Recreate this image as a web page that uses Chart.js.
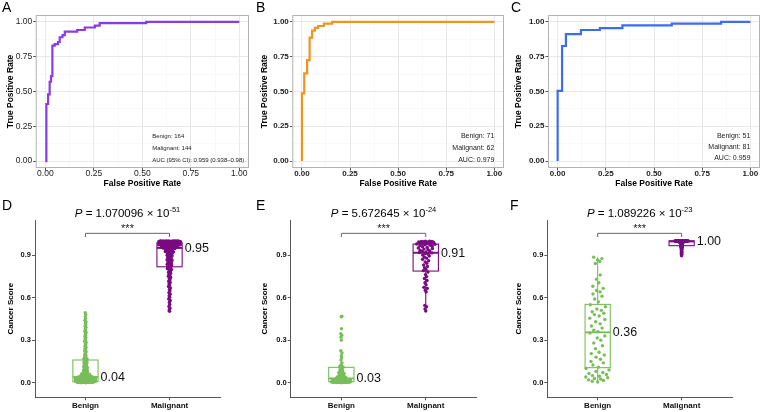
<!DOCTYPE html>
<html>
<head>
<meta charset="utf-8">
<script src="https://cdn.jsdelivr.net/npm/chart.js@4.4.1/dist/chart.umd.min.js"></script>
<style>
	body { margin: 0; background: #fff; width: 762px; height: 412px; position: relative; overflow: hidden; font-family: 'Liberation Sans', Arial, sans-serif; }
	.panel { position: absolute; }
	.tag { position: absolute; font-size: 14px; line-height: 1; color: #000; }
</style>
</head>
<body>
<div class="panel" style="left:0;top:0;width:254px;height:200px"><canvas id="rocA"></canvas></div>
<div class="panel" style="left:254px;top:0;width:254px;height:200px"><canvas id="rocB"></canvas></div>
<div class="panel" style="left:508px;top:0;width:254px;height:200px"><canvas id="rocC"></canvas></div>
<div class="panel" style="left:0;top:200px;width:254px;height:212px"><canvas id="scoreD"></canvas></div>
<div class="panel" style="left:254px;top:200px;width:254px;height:212px"><canvas id="scoreE"></canvas></div>
<div class="panel" style="left:508px;top:200px;width:254px;height:212px"><canvas id="scoreF"></canvas></div>
<div class="tag" style="left:2px;top:0px">A</div>
<div class="tag" style="left:256px;top:0px">B</div>
<div class="tag" style="left:511px;top:0px">C</div>
<div class="tag" style="left:2px;top:198px">D</div>
<div class="tag" style="left:256px;top:198px">E</div>
<div class="tag" style="left:510px;top:198px">F</div>
<script>
'use strict';

const FONT = "'Liberation Sans', Arial, sans-serif";

// ROC 곡선 데이터
const rocAFpr = [0, 0.005, 0.014, 0.022, 0.029, 0.036, 0.048, 0.065, 0.074, 0.088, 0.100, 0.164, 0.203, 0.255, 0.280, 0.520, 1.0];
const rocATpr = [0, 0.410, 0.480, 0.570, 0.610, 0.830, 0.840, 0.856, 0.890, 0.906, 0.930, 0.942, 0.960, 0.974, 0.992, 1.000, 1.0];
const rocBFpr = [0, 0, 0.012, 0.027, 0.040, 0.053, 0.067, 0.084, 0.114, 0.157, 1.0];
const rocBTpr = [0, 0.486, 0.630, 0.726, 0.887, 0.938, 0.957, 0.971, 0.988, 1.000, 1.0];
const rocCFpr = [0, 0, 0.023, 0.043, 0.121, 0.219, 0.336, 0.592, 0.848, 1.0];
const rocCTpr = [0, 0.505, 0.827, 0.913, 0.942, 0.955, 0.976, 0.988, 1.000, 1.0];
const rocTicks = [0, 0.125, 0.25, 0.375, 0.5, 0.625, 0.75, 0.875, 1];

const rocANotes = ['Benign: 164', 'Malignant: 144', 'AUC (95% CI): 0.959 (0.938\u20130.98)'];
const rocBNotes = ['Benign: 71', 'Malignant: 62', 'AUC: 0.979'];
const rocCNotes = ['Benign: 51', 'Malignant: 81', 'AUC: 0.959'];

// Cancer Score 데이터
const groupLabels = ['Benign', 'Malignant'];
const scoreTicks = [0, 0.3, 0.6, 0.9];

const scoreDBenign = [
	0.000, 0.000, 0.001, 0.001, 0.001, 0.002, 0.002, 0.002, 0.002, 0.003, 0.003, 0.003, 0.003, 0.004, 0.004,
	0.004, 0.005, 0.005, 0.005, 0.006, 0.006, 0.006, 0.007, 0.007, 0.007, 0.008, 0.008, 0.008, 0.009, 0.009,
	0.010, 0.010, 0.011, 0.011, 0.012, 0.012, 0.013, 0.013, 0.014, 0.014, 0.015, 0.015, 0.016, 0.016, 0.017,
	0.018, 0.018, 0.019, 0.019, 0.020, 0.021, 0.021, 0.022, 0.022, 0.023, 0.024, 0.024, 0.025, 0.026, 0.026,
	0.027, 0.028, 0.028, 0.029, 0.030, 0.030, 0.031, 0.032, 0.032, 0.033, 0.034, 0.034, 0.035, 0.036, 0.036,
	0.037, 0.038, 0.038, 0.039, 0.039, 0.040, 0.040, 0.041, 0.041, 0.042, 0.043, 0.044,
	0.045, 0.047, 0.049, 0.051, 0.053, 0.055, 0.057, 0.060, 0.062, 0.065, 0.068, 0.071, 0.074, 0.077, 0.080,
	0.083, 0.086, 0.089, 0.092, 0.095, 0.098, 0.101, 0.104, 0.108, 0.112, 0.116, 0.120, 0.124, 0.128, 0.132,
	0.136, 0.140, 0.144, 0.148, 0.152, 0.155, 0.158, 0.161, 0.164, 0.167, 0.170,
	0.175, 0.182, 0.189, 0.196, 0.203, 0.210, 0.218, 0.226, 0.234, 0.242, 0.250, 0.258, 0.266, 0.275, 0.284,
	0.292, 0.300, 0.309, 0.318, 0.327, 0.336, 0.345, 0.354, 0.363, 0.372, 0.381, 0.390, 0.399, 0.409, 0.419,
	0.429, 0.440, 0.452, 0.466, 0.481, 0.494
];
const scoreDMalignant = [
	0.503, 0.512, 0.525, 0.538, 0.552, 0.566, 0.579, 0.590, 0.602, 0.613, 0.624, 0.635, 0.646, 0.657, 0.668,
	0.678, 0.688, 0.698, 0.707, 0.716, 0.725, 0.734, 0.742, 0.750, 0.758, 0.765, 0.772, 0.779, 0.786, 0.792,
	0.798, 0.804, 0.809, 0.813, 0.817, 0.820,
	0.823, 0.827, 0.831, 0.835, 0.839, 0.843, 0.847, 0.851, 0.855, 0.859, 0.863, 0.867, 0.871, 0.875, 0.879,
	0.883, 0.887, 0.891, 0.895, 0.899, 0.903, 0.907, 0.910, 0.913, 0.916, 0.919, 0.922, 0.925, 0.928, 0.931,
	0.934, 0.937, 0.940, 0.943, 0.946, 0.949,
	0.950, 0.951, 0.952, 0.953, 0.954, 0.955, 0.956, 0.957, 0.958, 0.959, 0.960, 0.961, 0.962, 0.963, 0.964,
	0.965, 0.966, 0.967, 0.968, 0.969, 0.970, 0.971, 0.972, 0.973, 0.974, 0.975, 0.976, 0.977, 0.978, 0.979,
	0.980, 0.981, 0.982, 0.984, 0.985, 0.986,
	0.987, 0.988, 0.988, 0.989, 0.989, 0.990, 0.990, 0.991, 0.991, 0.992, 0.992, 0.993, 0.993, 0.994, 0.994,
	0.994, 0.995, 0.995, 0.995, 0.996, 0.996, 0.996, 0.997, 0.997, 0.997, 0.998, 0.998, 0.998, 0.998, 0.999,
	0.999, 0.999, 0.999, 1.000, 1.000, 1.000
];
const scoreEBenign = [
	0.000, 0.001, 0.001, 0.001, 0.002, 0.002, 0.002, 0.003, 0.003, 0.003, 0.004, 0.004, 0.005, 0.005, 0.006,
	0.006, 0.007, 0.007, 0.008, 0.009, 0.010, 0.011, 0.012, 0.013, 0.014, 0.015, 0.016, 0.017, 0.018, 0.019,
	0.021, 0.022, 0.024, 0.026, 0.028, 0.030, 0.032, 0.035, 0.038, 0.041, 0.044, 0.047, 0.050, 0.054, 0.058,
	0.062, 0.066, 0.070, 0.075, 0.080, 0.085, 0.091, 0.098, 0.106, 0.110, 0.115, 0.118, 0.125, 0.140, 0.160,
	0.175, 0.190, 0.210, 0.225, 0.300, 0.320, 0.335, 0.345, 0.380, 0.465, 0.468
];
const scoreEMalignant = [
	0.505, 0.520, 0.535, 0.545, 0.640, 0.652, 0.665, 0.672, 0.690, 0.705, 0.720, 0.735, 0.748, 0.762, 0.780,
	0.790, 0.800, 0.810, 0.820, 0.830, 0.842, 0.852, 0.860, 0.870, 0.878, 0.886, 0.893, 0.900, 0.905, 0.910,
	0.915, 0.918, 0.922, 0.926, 0.930, 0.934, 0.938, 0.942, 0.946, 0.950, 0.954, 0.958, 0.962, 0.966, 0.970,
	0.973, 0.976, 0.978, 0.980, 0.982, 0.984, 0.986, 0.988, 0.990, 0.991, 0.992, 0.993, 0.994, 0.995, 0.996,
	0.997, 0.998
];
const scoreFBenign = [
	0.005, 0.010, 0.015, 0.020, 0.025, 0.030, 0.035, 0.040, 0.045, 0.050, 0.058, 0.065, 0.072, 0.080, 0.090,
	0.100, 0.110, 0.125, 0.140, 0.150, 0.165, 0.180, 0.195, 0.205, 0.215, 0.240, 0.260, 0.280, 0.300, 0.315,
	0.330, 0.350, 0.360, 0.370, 0.385, 0.400, 0.415, 0.430, 0.445, 0.455, 0.470, 0.480, 0.490, 0.500, 0.510,
	0.520, 0.535, 0.550, 0.570, 0.590, 0.610, 0.625, 0.640, 0.650, 0.665, 0.680, 0.705, 0.730, 0.760, 0.840,
	0.855, 0.865, 0.875, 0.885
];
const scoreFMalignant = [
	0.895, 0.900, 0.905, 0.910, 0.915, 0.920, 0.925, 0.930, 0.935, 0.940, 0.944, 0.948, 0.951, 0.954, 0.957,
	0.959, 0.961, 0.963, 0.964, 0.965, 0.967, 0.969, 0.971, 0.973, 0.975, 0.977, 0.979, 0.981, 0.983, 0.985,
	0.986, 0.988, 0.989, 0.990, 0.991, 0.992, 0.993, 0.994, 0.995, 0.996, 0.996, 0.996, 0.997, 0.997, 0.997,
	0.997, 0.998, 0.998, 0.998, 0.998, 0.998, 0.999, 0.999, 0.999, 0.999, 0.999, 0.999, 0.999, 1.000, 1.000,
	1.000, 1.000, 1.000, 1.000, 1.000, 1.000, 1.000, 1.000, 1.000, 1.000, 1.000, 1.000, 1.000, 1.000, 1.000,
	1.000, 1.000, 1.000, 1.000, 1.000, 1.000
];

// 박스플롯 값: [하단 수염, Q1, 중앙값, Q3, 상단 수염]
const boxDBenign = [0.000, 0.007, 0.040, 0.160, 0.390];
const boxDMalignant = [0.570, 0.817, 0.950, 0.987, 1.000];
const boxEBenign = [0.000, 0.007, 0.030, 0.108, 0.230];
const boxEMalignant = [0.510, 0.787, 0.916, 0.977, 1.000];
const boxFBenign = [0.000, 0.106, 0.355, 0.552, 0.885];
const boxFMalignant = [0.915, 0.966, 0.996, 1.000, 1.000];

const medianDText = ['0.04', '0.95'];
const medianEText = ['0.03', '0.91'];
const medianFText = ['0.36', '1.00'];

const pDText = ['1.070096', '-51'];
const pEText = ['5.672645', '-24'];
const pFText = ['1.089226', '-23'];

const GREEN = '#78BE5A';
const PURPLE = '#7A0A82';

// van der Corput 수열
function vanDerCorput(n) {
	let v = 0;
	let denom = 1;
	while (n > 0) {
		denom *= 2;
		v += (n % 2) / denom;
		n = Math.floor(n / 2);
	}
	return v;
}

// quasirandom 배치용 x 오프셋 (밀도 기반)
function quasiOffsets(values, halfWidth) {
	const n = values.length;
	const mean = values.reduce((s, v) => s + v, 0) / n;
	const sd = Math.sqrt(values.reduce((s, v) => s + (v - mean) * (v - mean), 0) / (n - 1));
	const sorted = values.slice().sort((a, b) => a - b);
	const iqr = sorted[Math.floor(n * 0.75)] - sorted[Math.floor(n * 0.25)];
	let lo = Math.min(sd, iqr / 1.34);
	if (!(lo > 0)) lo = sd || 0.01;
	const bw = 0.5 * 0.9 * lo * Math.pow(n, -0.2);

	const dens = values.map(y => values.reduce((s, v) => s + Math.exp(-0.5 * ((y - v) / bw) * ((y - v) / bw)), 0));
	const maxD = Math.max.apply(null, dens);
	const order = values.map((v, i) => i).sort((a, b) => values[a] - values[b] || a - b);
	const offs = new Array(n);
	order.forEach((idx, r) => {
		offs[idx] = (vanDerCorput(r + 1) - 0.5) * 2 * halfWidth * dens[idx] / maxD;
	});
	return offs;
}

function isMajor(v) {
	return Math.abs(v * 4 - Math.round(v * 4)) < 1e-6;
}

// ROC 차트 생성
function makeRocChart(id, fpr, tpr, color, cfg) {
	const tickFont = { family: FONT, size: cfg.tickSize, weight: cfg.tickWeight };
	const titleFont = { family: FONT, size: 8.5, weight: 'bold' };

	const decor = {
		id: 'rocDecor',
		afterDraw(chart) {
			const ctx = chart.ctx;
			const a = chart.chartArea;
			const xs = chart.scales.x;
			const ys = chart.scales.y;
			ctx.save();
			ctx.strokeStyle = '#B3B3B3';
			ctx.lineWidth = 1;
			ctx.strokeRect(a.left + 0.5, a.top + 0.5, a.right - a.left - 1, a.bottom - a.top - 1);

			ctx.fillStyle = '#222';
			ctx.font = cfg.noteSize + 'px ' + FONT;
			ctx.textAlign = cfg.noteAlign;
			ctx.textBaseline = 'middle';
			cfg.notes.forEach((t, i) => {
				ctx.fillText(t, xs.getPixelForValue(cfg.noteX), ys.getPixelForValue(cfg.noteY[i]));
			});
			ctx.restore();
		}
	};

	return new Chart(document.getElementById(id), {
		type: 'line',
		data: {
			datasets: [{
				data: fpr.map((x, i) => ({ x: x, y: tpr[i] })),
				borderColor: color,
				borderWidth: 2.2,
				pointRadius: 0,
				stepped: 'before',
				fill: false
			}]
		},
		options: {
			responsive: true,
			maintainAspectRatio: false,
			animation: false,
			events: [],
			layout: { padding: { left: 0, top: cfg.top, right: cfg.right, bottom: 0 } },
			plugins: { legend: { display: false }, tooltip: { enabled: false } },
			scales: {
				x: {
					type: 'linear',
					min: -0.05,
					max: 1.05,
					afterBuildTicks: s => { s.ticks = rocTicks.map(v => ({ value: v })); },
					afterFit: s => { s.height = cfg.xAxisH; },
					ticks: {
						autoSkip: false,
						maxRotation: 0,
						padding: -1.5,
						color: '#222',
						font: tickFont,
						callback: v => isMajor(v) ? v.toFixed(2) : ''
					},
					grid: {
						color: c => isMajor(c.tick.value) ? '#E6E6E6' : '#F3F3F3',
						lineWidth: c => isMajor(c.tick.value) ? 0.9 : 0.5,
						tickColor: c => isMajor(c.tick.value) ? '#444' : 'rgba(0,0,0,0)',
						tickLength: 2.5
					},
					border: { display: false },
					title: {
						display: true,
						text: 'False Positive Rate',
						color: '#000',
						font: titleFont,
						padding: { top: 0, bottom: cfg.xTitlePad }
					}
				},
				y: {
					type: 'linear',
					min: -0.05,
					max: 1.05,
					afterBuildTicks: s => { s.ticks = rocTicks.map(v => ({ value: v })); },
					afterFit: s => { s.width = cfg.yAxisW; },
					ticks: {
						autoSkip: false,
						padding: 1,
						color: '#222',
						font: tickFont,
						callback: v => isMajor(v) ? v.toFixed(2) : ''
					},
					grid: {
						color: c => isMajor(c.tick.value) ? '#E6E6E6' : '#F3F3F3',
						lineWidth: c => isMajor(c.tick.value) ? 0.9 : 0.5,
						tickColor: c => isMajor(c.tick.value) ? '#444' : 'rgba(0,0,0,0)',
						tickLength: 2.5
					},
					border: { display: false },
					title: {
						display: true,
						text: 'True Positive Rate',
						color: '#000',
						font: titleFont,
						padding: { top: 5.5, bottom: 0 }
					}
				}
			}
		},
		plugins: [decor]
	});
}

// 박스 그리기
function drawBox(ctx, xs, ys, center, stats, color) {
	const xl = xs.getPixelForValue(center - 0.15);
	const xr = xs.getPixelForValue(center + 0.15);
	const xc = xs.getPixelForValue(center);
	ctx.strokeStyle = color;
	ctx.lineWidth = 1.1;
	ctx.beginPath();
	ctx.moveTo(xc, ys.getPixelForValue(stats[3]));
	ctx.lineTo(xc, ys.getPixelForValue(stats[4]));
	ctx.moveTo(xc, ys.getPixelForValue(stats[1]));
	ctx.lineTo(xc, ys.getPixelForValue(stats[0]));
	ctx.stroke();
	const yTop = ys.getPixelForValue(stats[3]);
	const yBot = ys.getPixelForValue(stats[1]);
	ctx.strokeRect(xl, yTop, xr - xl, yBot - yTop);
	ctx.lineWidth = 1.9;
	ctx.beginPath();
	ctx.moveTo(xl, ys.getPixelForValue(stats[2]));
	ctx.lineTo(xr, ys.getPixelForValue(stats[2]));
	ctx.stroke();
}

// P 값 제목
function drawPTitle(ctx, cx, baseY, pText) {
	const mainFont = '11.5px ' + FONT;
	const parts = [
		{ t: 'P', f: 'italic ' + mainFont, dy: 0 },
		{ t: ' = ' + pText[0] + ' \u00d7 10', f: mainFont, dy: 0 },
		{ t: pText[1], f: '7.5px ' + FONT, dy: -4.8 }
	];
	let total = 0;
	parts.forEach(p => { ctx.font = p.f; p.w = ctx.measureText(p.t).width; total += p.w; });
	let x = cx - total / 2;
	ctx.fillStyle = '#000';
	ctx.textAlign = 'left';
	ctx.textBaseline = 'alphabetic';
	parts.forEach(p => {
		ctx.font = p.f;
		ctx.fillText(p.t, x, baseY + p.dy);
		x += p.w;
	});
}

// Cancer Score 차트 생성
function makeScoreChart(id, benign, malignant, boxes, medians, pText, cfg) {
	const pxPerUnit = 84;
	const offB = quasiOffsets(benign, cfg.halfW[0] / pxPerUnit);
	const offM = quasiOffsets(malignant, cfg.halfW[1] / pxPerUnit);

	const decor = {
		id: 'scoreDecor',
		beforeDatasetsDraw(chart) {
			const ctx = chart.ctx;
			ctx.save();
			drawBox(ctx, chart.scales.x, chart.scales.y, 1, boxes[0], GREEN);
			drawBox(ctx, chart.scales.x, chart.scales.y, 2, boxes[1], PURPLE);
			ctx.restore();
		},
		afterDraw(chart) {
			const ctx = chart.ctx;
			const a = chart.chartArea;
			const xs = chart.scales.x;
			const ys = chart.scales.y;
			ctx.save();
			drawPTitle(ctx, (a.left + a.right) / 2, a.top - 3, pText);

			// 유의성 브래킷
			const x1 = xs.getPixelForValue(1);
			const x2 = xs.getPixelForValue(2);
			const yb = ys.getPixelForValue(1.053);
			const yt = ys.getPixelForValue(1.027);
			ctx.strokeStyle = '#555';
			ctx.lineWidth = 0.9;
			ctx.beginPath();
			ctx.moveTo(x1, yt);
			ctx.lineTo(x1, yb);
			ctx.lineTo(x2, yb);
			ctx.lineTo(x2, yt);
			ctx.stroke();
			ctx.fillStyle = '#222';
			ctx.font = '11px ' + FONT;
			ctx.textAlign = 'center';
			ctx.textBaseline = 'alphabetic';
			ctx.fillText('***', (x1 + x2) / 2, yb - 1.5);

			// 중앙값 라벨
			ctx.font = '12.5px ' + FONT;
			ctx.textAlign = 'left';
			ctx.textBaseline = 'middle';
			ctx.fillStyle = '#111';
			[1, 2].forEach((c, i) => {
				ctx.fillText(medians[i], xs.getPixelForValue(c + 0.15) + 2.5, ys.getPixelForValue(boxes[i][2]) + 0.5);
			});
			ctx.restore();
		}
	};

	const tickFont = { family: FONT, size: 7.5, weight: 'bold' };

	return new Chart(document.getElementById(id), {
		type: 'scatter',
		data: {
			datasets: [{
				data: benign.map((v, i) => ({ x: 1 + offB[i], y: v })),
				backgroundColor: GREEN,
				borderWidth: 0,
				pointRadius: 1.7
			}, {
				data: malignant.map((v, i) => ({ x: 2 + offM[i], y: v })),
				backgroundColor: PURPLE,
				borderWidth: 0,
				pointRadius: 1.7
			}]
		},
		options: {
			responsive: true,
			maintainAspectRatio: false,
			animation: false,
			events: [],
			layout: { padding: { left: 0, top: 20, right: cfg.right, bottom: 0 } },
			plugins: { legend: { display: false }, tooltip: { enabled: false } },
			scales: {
				x: {
					type: 'linear',
					min: 0.4,
					max: 2.6,
					afterBuildTicks: s => { s.ticks = [{ value: 1 }, { value: 2 }]; },
					afterFit: s => { s.height = 14.7; },
					ticks: {
						autoSkip: false,
						maxRotation: 0,
						padding: 1,
						color: '#111',
						font: { family: FONT, size: 8, weight: 'bold' },
						callback: (v, i) => groupLabels[i]
					},
					grid: { drawOnChartArea: false, tickLength: 3, tickColor: '#444', lineWidth: 0.9 },
					border: { display: true, color: '#444', width: 0.9 }
				},
				y: {
					type: 'linear',
					min: -0.103,
					max: 1.147,
					afterBuildTicks: s => { s.ticks = scoreTicks.map(v => ({ value: v })); },
					afterFit: s => { s.width = cfg.yAxisW; },
					ticks: {
						autoSkip: false,
						padding: 1,
						color: '#111',
						font: tickFont,
						callback: v => v.toFixed(1)
					},
					grid: { drawOnChartArea: false, tickLength: 3, tickColor: '#444', lineWidth: 0.9 },
					border: { display: true, color: '#444', width: 0.9 },
					title: {
						display: true,
						text: 'Cancer Score',
						color: '#000',
						font: { family: FONT, size: 8, weight: 'bold' },
						padding: { top: 6.2, bottom: 0 }
					}
				}
			}
		},
		plugins: [decor]
	});
}

document.addEventListener('DOMContentLoaded', function() {
	makeRocChart('rocA', rocAFpr, rocATpr, '#8A3BE8', {
		top: 15, right: 5, yAxisW: 35.7, xAxisH: 32, xTitlePad: 11.4,
		tickSize: 8.5, tickWeight: 'normal',
		notes: rocANotes, noteAlign: 'left', noteX: 0.551, noteY: [0.177, 0.091, 0.007], noteSize: 6
	});
	makeRocChart('rocB', rocBFpr, rocBTpr, '#F2931E', {
		top: 15, right: 4, yAxisW: 38.3, xAxisH: 32, xTitlePad: 11.4,
		tickSize: 8, tickWeight: 'bold',
		notes: rocBNotes, noteAlign: 'right', noteX: 1.0, noteY: [0.177, 0.091, 0.007], noteSize: 7
	});
	makeRocChart('rocC', rocCFpr, rocCTpr, '#3D6BF5', {
		top: 15, right: 2, yAxisW: 40, xAxisH: 32, xTitlePad: 11.4,
		tickSize: 8, tickWeight: 'bold',
		notes: rocCNotes, noteAlign: 'right', noteX: 1.0, noteY: [0.177, 0.097, 0.018], noteSize: 7
	});

	makeScoreChart('scoreD', scoreDBenign, scoreDMalignant, [boxDBenign, boxDMalignant], medianDText, pDText,
		{ yAxisW: 35, right: 34, halfW: [11, 12] });
	makeScoreChart('scoreE', scoreEBenign, scoreEMalignant, [boxEBenign, boxEMalignant], medianEText, pEText,
		{ yAxisW: 36.7, right: 31.6, halfW: [11, 10] });
	makeScoreChart('scoreF', scoreFBenign, scoreFMalignant, [boxFBenign, boxFMalignant], medianFText, pFText,
		{ yAxisW: 39.3, right: 30, halfW: [14, 7] });
});
</script>
</body>
</html>
